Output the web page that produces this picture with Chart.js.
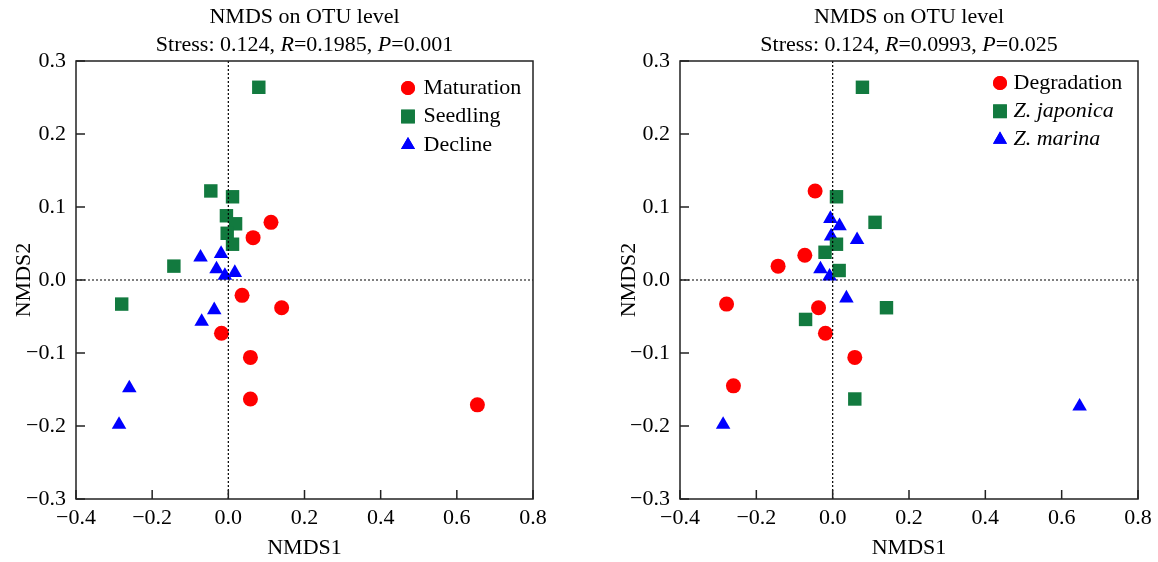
<!DOCTYPE html>
<html>
<head>
<meta charset="utf-8">
<title>NMDS on OTU level</title>
<script src="https://cdn.jsdelivr.net/npm/chart.js@4.4.1/dist/chart.umd.min.js"></script>
<style>
  html, body { margin: 0; padding: 0; background: #fff; }
  #wrap { position: relative; width: 1158px; height: 562px; }
  .panel { position: absolute; top: 0; width: 579px; height: 562px; }
  #leftPanel { left: 0; }
  #rightPanel { left: 579px; }
  canvas { display: block; }
</style>
</head>
<body>
<div id="wrap">
  <div class="panel" id="leftPanel"><canvas id="nmdsStage" width="579" height="562"></canvas></div>
  <div class="panel" id="rightPanel"><canvas id="nmdsSpecies" width="579" height="562"></canvas></div>
</div>
<script>
// --- Data ---
const xTicks = [-0.4, -0.2, 0.0, 0.2, 0.4, 0.6, 0.8];
const yTicks = [-0.3, -0.2, -0.1, 0.0, 0.1, 0.2, 0.3];

// Left panel: growth stage
const maturationX = [0.112, 0.065, 0.036, 0.140, -0.018, 0.058, 0.058, 0.654];
const maturationY = [0.079, 0.058, -0.021, -0.038, -0.073, -0.106, -0.163, -0.171];
const seedlingX = [0.080, -0.046, 0.011, -0.005, 0.019, -0.003, 0.011, -0.143, -0.280];
const seedlingY = [0.264, 0.122, 0.114, 0.088, 0.077, 0.064, 0.049, 0.019, -0.033];
const declineX = [-0.073, -0.019, -0.031, -0.009, 0.017, -0.037, -0.070, -0.260, -0.287];
const declineY = [0.031, 0.036, 0.015, 0.006, 0.010, -0.041, -0.057, -0.148, -0.198];

// Right panel: species
const degradationX = [-0.046, -0.073, -0.143, -0.278, -0.037, -0.019, 0.058, -0.260];
const degradationY = [0.122, 0.034, 0.019, -0.033, -0.038, -0.073, -0.106, -0.145];
const japonicaX = [0.078, 0.010, 0.111, 0.010, -0.020, 0.017, 0.141, -0.071, 0.058];
const japonicaY = [0.264, 0.114, 0.079, 0.049, 0.038, 0.013, -0.038, -0.054, -0.163];
const marinaX = [-0.006, 0.018, -0.004, 0.064, -0.032, -0.008, 0.036, -0.287, 0.647];
const marinaY = [0.084, 0.074, 0.060, 0.055, 0.015, 0.005, -0.025, -0.198, -0.173];

const SERIF = "'Liberation Serif', 'Times New Roman', serif";
const RED = '#ff0000';
const GREEN = '#127a3f';
const BLUE = '#0000ff';

function toPoints(xs, ys) {
    return xs.map((x, i) => ({ x: x, y: ys[i] }));
}

function fmtTick(v) {
    if (Math.abs(v) < 1e-9) return '0.0';
    return v.toFixed(1).replace('-', '\u2212');
}

function makeDataset(label, xs, ys, color, style, radius) {
    return {
        label: label,
        data: toPoints(xs, ys),
        pointStyle: style,
        pointRadius: radius,
        pointHoverRadius: radius,
        backgroundColor: color,
        borderColor: color,
        borderWidth: 0
    };
}

// --- Frame, dotted zero lines and inward ticks ---
const framePlugin = {
    id: 'frame',
    afterDatasetsDraw(chart) {
        const { ctx, chartArea: a, scales: { x, y } } = chart;
        ctx.save();
        // dotted zero lines
        ctx.strokeStyle = '#000';
        ctx.lineWidth = 1.2;
        ctx.setLineDash([2, 2]);
        const x0 = x.getPixelForValue(0);
        const y0 = y.getPixelForValue(0);
        ctx.beginPath();
        ctx.moveTo(x0, a.top); ctx.lineTo(x0, a.bottom);
        ctx.moveTo(a.left, y0); ctx.lineTo(a.right, y0);
        ctx.stroke();
        ctx.setLineDash([]);
        // box
        ctx.strokeStyle = '#222';
        ctx.lineWidth = 1.5;
        ctx.strokeRect(a.left, a.top, a.right - a.left, a.bottom - a.top);
        // inward ticks
        ctx.beginPath();
        xTicks.forEach(v => {
            const px = x.getPixelForValue(v);
            ctx.moveTo(px, a.bottom); ctx.lineTo(px, a.bottom - 9);
        });
        yTicks.forEach(v => {
            const py = y.getPixelForValue(v);
            ctx.moveTo(a.left, py); ctx.lineTo(a.left + 9, py);
        });
        ctx.stroke();
        ctx.restore();
    }
};

// --- Two-line title with italic R and P ---
const titlePlugin = {
    id: 'richTitle',
    afterDraw(chart, args, opts) {
        const { ctx, chartArea: a } = chart;
        const cx = (a.left + a.right) / 2;
        ctx.save();
        ctx.fillStyle = '#000';
        ctx.textBaseline = 'middle';
        ctx.textAlign = 'left';
        opts.lines.forEach((segs, i) => {
            const y = a.top + opts.offsets[i];
            let total = 0;
            segs.forEach(s => {
                ctx.font = (s.italic ? 'italic ' : '') + '22px ' + SERIF;
                total += ctx.measureText(s.text).width;
            });
            let xPos = cx - total / 2;
            segs.forEach(s => {
                ctx.font = (s.italic ? 'italic ' : '') + '22px ' + SERIF;
                ctx.fillText(s.text, xPos, y);
                xPos += ctx.measureText(s.text).width;
            });
        });
        ctx.restore();
    }
};

// --- Legend with markers (some labels italic) ---
const legendPlugin = {
    id: 'markerLegend',
    afterDraw(chart, args, opts) {
        const { ctx, chartArea: a } = chart;
        ctx.save();
        ctx.textBaseline = 'middle';
        chart.data.datasets.forEach((ds, i) => {
            const mx = a.right - opts.markerRight;
            const my = a.top + opts.top + i * opts.rowGap;
            ctx.fillStyle = ds.backgroundColor;
            Chart.helpers.drawPoint(ctx, {
                pointStyle: ds.pointStyle,
                radius: opts.radius[ds.pointStyle],
                borderWidth: 0,
                rotation: 0
            }, mx, my);
            ctx.fill();
            ctx.fillStyle = '#000';
            ctx.font = (opts.italic[i] ? 'italic ' : '') + '22px ' + SERIF;
            ctx.fillText(ds.label, mx + opts.textGap, my);
        });
        ctx.restore();
    }
};

function buildOptions(yAxisWidth, rightPad, yTitlePad, titleLines, legendOpts) {
    return {
        responsive: false,
        animation: false,
        events: [],
        layout: { padding: { top: 61, right: rightPad, bottom: 0, left: 0 } },
        plugins: {
            legend: { display: false },
            tooltip: { enabled: false },
            richTitle: { lines: titleLines, offsets: [-44, -16] },
            markerLegend: legendOpts
        },
        scales: {
            x: {
                type: 'linear',
                min: -0.4,
                max: 0.8,
                afterFit: s => { s.height = 63; },
                afterBuildTicks: s => { s.ticks = xTicks.map(v => ({ value: v })); },
                grid: { display: false, drawTicks: false },
                border: { display: false },
                ticks: {
                    color: '#000',
                    padding: 6,
                    maxRotation: 0,
                    font: { family: SERIF, size: 22 },
                    callback: v => fmtTick(v)
                },
                title: {
                    display: true,
                    text: 'NMDS1',
                    color: '#000',
                    font: { family: SERIF, size: 22 },
                    padding: { top: 0, bottom: 1 }
                }
            },
            y: {
                type: 'linear',
                min: -0.3,
                max: 0.3,
                afterFit: s => { s.width = yAxisWidth; },
                afterBuildTicks: s => { s.ticks = yTicks.map(v => ({ value: v })); },
                grid: { display: false, drawTicks: false },
                border: { display: false },
                ticks: {
                    color: '#000',
                    padding: 10,
                    font: { family: SERIF, size: 22 },
                    callback: v => fmtTick(v)
                },
                title: {
                    display: true,
                    text: 'NMDS2',
                    color: '#000',
                    font: { family: SERIF, size: 22 },
                    padding: { top: yTitlePad, bottom: 0 }
                }
            }
        }
    };
}

const markerRadius = { circle: 7.5, rect: 9.5, triangle: 8.4 };
const legendRadius = { circle: 7, rect: 9.7, triangle: 8.1 };

// === Left panel ===
new Chart(document.getElementById('nmdsStage'), {
    type: 'scatter',
    data: {
        datasets: [
            makeDataset('Maturation', maturationX, maturationY, RED, 'circle', markerRadius.circle),
            makeDataset('Seedling', seedlingX, seedlingY, GREEN, 'rect', markerRadius.rect),
            makeDataset('Decline', declineX, declineY, BLUE, 'triangle', markerRadius.triangle)
        ]
    },
    options: buildOptions(76, 46, 11, [
        [{ text: 'NMDS on OTU level' }],
        [{ text: 'Stress: 0.124, ' }, { text: 'R', italic: true }, { text: '=0.1985, ' },
         { text: 'P', italic: true }, { text: '=0.001' }]
    ], {
        markerRight: 125, top: 27, rowGap: 28.5, textGap: 15.5,
        radius: legendRadius, italic: [false, false, false]
    }),
    plugins: [framePlugin, titlePlugin, legendPlugin]
});

// === Right panel ===
new Chart(document.getElementById('nmdsSpecies'), {
    type: 'scatter',
    data: {
        datasets: [
            makeDataset('Degradation', degradationX, degradationY, RED, 'circle', markerRadius.circle),
            makeDataset('Z. japonica', japonicaX, japonicaY, GREEN, 'rect', markerRadius.rect),
            makeDataset('Z. marina', marinaX, marinaY, BLUE, 'triangle', markerRadius.triangle)
        ]
    },
    options: buildOptions(101, 20, 37, [
        [{ text: 'NMDS on OTU level' }],
        [{ text: 'Stress: 0.124, ' }, { text: 'R', italic: true }, { text: '=0.0993, ' },
         { text: 'P', italic: true }, { text: '=0.025' }]
    ], {
        markerRight: 138, top: 22, rowGap: 28.3, textGap: 13.5,
        radius: legendRadius, italic: [false, true, true]
    }),
    plugins: [framePlugin, titlePlugin, legendPlugin]
});
</script>
</body>
</html>
